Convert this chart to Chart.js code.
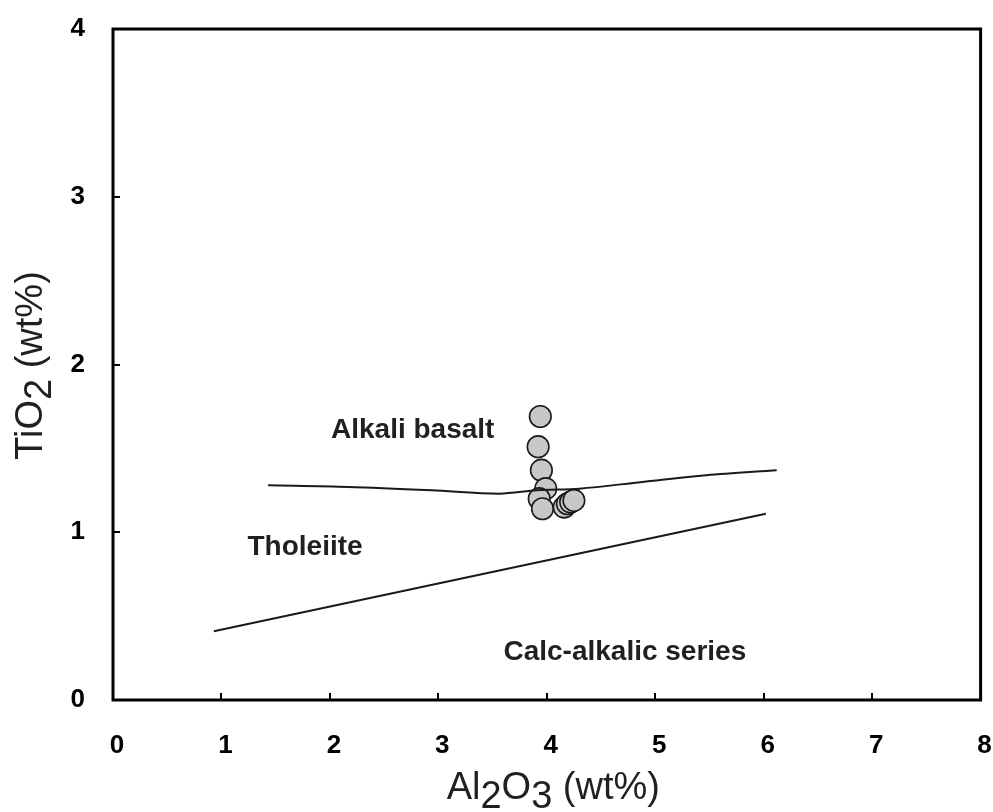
<!DOCTYPE html>
<html>
<head>
<meta charset="utf-8">
<title>TiO2 vs Al2O3</title>
<script src="https://cdn.jsdelivr.net/npm/chart.js@4.4.1/dist/chart.umd.min.js"></script>
<style>
    html, body { margin: 0; padding: 0; background: #fff; }
    #wrap { width: 993px; height: 812px; position: relative; }
</style>
</head>
<body>
<div id="wrap"><canvas id="chart"></canvas></div>
<script>
// Sample analyses (wt%)
const sampleAl2O3 = [3.94, 3.92, 3.95, 3.99, 3.93, 3.96, 4.16, 4.19, 4.22, 4.25];
const sampleTiO2 = [1.69, 1.51, 1.37, 1.26, 1.20, 1.14, 1.15, 1.17, 1.18, 1.19];

// Alkali basalt / tholeiite boundary
const alkaliLineX = [1.43, 2.17, 2.94, 3.56, 3.91, 4.30, 4.88, 5.47, 6.12];
const alkaliLineY = [1.28, 1.27, 1.25, 1.23, 1.25, 1.26, 1.30, 1.34, 1.37];

// Tholeiite / calc-alkalic boundary
const calcLineX = [0.93, 6.02];
const calcLineY = [0.41, 1.11];

// Field names and where they sit (data units, left edge / baseline)
const fieldNames = ['Alkali basalt', 'Tholeiite', 'Calc-alkalic series'];
const fieldX = [2.01, 1.24, 3.60];
const fieldY = [1.56, 0.865, 0.24];

// Axis titles: [text, isSubscript]
const xTitleParts = [['Al', 0], ['2', 1], ['O', 0], ['3', 1], [' (wt%)', 0]];
const yTitleParts = [['TiO', 0], ['2', 1], [' (wt%)', 0]];

const xTickValues = [0, 1, 2, 3, 4, 5, 6, 7, 8];
const yTickValues = [0, 1, 2, 3, 4];

const tickFont = { family: "'Liberation Sans', Arial, sans-serif", size: 26, weight: 'bold' };
const labelFont = "bold 28px 'Liberation Sans', Arial, sans-serif";
const titleFont = "38px 'Liberation Sans', Arial, sans-serif";

const toPoints = (xs, ys) => xs.map((x, i) => ({ x: x, y: ys[i] }));

/**
 * Draw a string made of normal and subscript pieces, centred on x
 */
function drawSubText(ctx, parts, x, y, drop) {
    const widths = parts.map(([t]) => ctx.measureText(t).width);
    let cx = x - widths.reduce((a, b) => a + b, 0) / 2;
    parts.forEach(([t, sub], i) => {
        ctx.fillText(t, cx, sub ? y + drop : y);
        cx += widths[i];
    });
}

// Keep the plot frame exactly where the reference has it
function noScalePadding(scale) {
    scale.paddingLeft = 0;
    scale.paddingRight = 0;
    scale.paddingTop = 0;
    scale.paddingBottom = 0;
}

// Frame, inward ticks, field names and axis titles
const decorations = {
    id: 'decorations',
    afterDatasetsDraw(chart) {
        const ctx = chart.ctx;
        const area = chart.chartArea;
        const xs = chart.scales.x;
        const ys = chart.scales.y;
        ctx.save();

        // inner tick marks
        ctx.strokeStyle = '#000';
        ctx.lineWidth = 2;
        ctx.beginPath();
        xTickValues.slice(1, -1).forEach(v => {
            const px = Math.round(xs.getPixelForValue(v));
            ctx.moveTo(px, area.bottom);
            ctx.lineTo(px, area.bottom - 7);
        });
        yTickValues.slice(1, -1).forEach(v => {
            const py = Math.round(ys.getPixelForValue(v));
            ctx.moveTo(area.left, py);
            ctx.lineTo(area.left + 7, py);
        });
        ctx.stroke();

        // frame
        ctx.lineWidth = 3;
        ctx.strokeRect(area.left, area.top, area.right - area.left, area.bottom - area.top);

        // field names
        ctx.fillStyle = '#231f20';
        ctx.font = labelFont;
        ctx.textAlign = 'left';
        ctx.textBaseline = 'alphabetic';
        fieldNames.forEach((name, i) => {
            ctx.fillText(name, xs.getPixelForValue(fieldX[i]), ys.getPixelForValue(fieldY[i]));
        });

        // axis titles
        ctx.fillStyle = '#231f20';
        ctx.font = titleFont;
        drawSubText(ctx, xTitleParts, (area.left + area.right) / 2 + 6.5, 799, 9);

        ctx.translate(42, (area.top + area.bottom) / 2 + 1);
        ctx.rotate(-Math.PI / 2);
        drawSubText(ctx, yTitleParts, 0, 0, 9);

        ctx.restore();
    }
};

const chart = new Chart(document.getElementById('chart'), {
    type: 'scatter',
    data: {
        datasets: [
            {
                label: 'Alkali basalt boundary',
                type: 'line',
                data: toPoints(alkaliLineX, alkaliLineY),
                borderColor: '#1a1a1a',
                borderWidth: 2,
                pointRadius: 0,
                tension: 0.4,
                cubicInterpolationMode: 'monotone',
                fill: false,
                order: 0
            },
            {
                label: 'Calc-alkalic boundary',
                type: 'line',
                data: toPoints(calcLineX, calcLineY),
                borderColor: '#1a1a1a',
                borderWidth: 2,
                pointRadius: 0,
                fill: false,
                order: 0
            },
            {
                label: 'Samples',
                data: toPoints(sampleAl2O3, sampleTiO2),
                pointRadius: 10.8,
                pointBackgroundColor: '#c8c8c8',
                pointBorderColor: '#1a1a1a',
                pointBorderWidth: 1.6,
                order: 1
            }
        ]
    },
    options: {
        responsive: true,
        maintainAspectRatio: false,
        animation: false,
        devicePixelRatio: 1,
        layout: {
            padding: { top: 29, right: 11, bottom: 0, left: 0 }
        },
        plugins: {
            legend: { display: false },
            tooltip: { enabled: false }
        },
        scales: {
            x: {
                type: 'linear',
                min: 0,
                max: 8,
                afterBuildTicks: scale => {
                    scale.ticks = xTickValues.map(v => ({ value: v }));
                },
                afterFit: scale => {
                    scale.height = 112;
                    noScalePadding(scale);
                },
                ticks: {
                    color: '#000',
                    font: tickFont,
                    padding: 30,
                    labelOffset: 4,
                    maxRotation: 0
                },
                grid: { display: false, drawTicks: false },
                border: { display: false }
            },
            y: {
                type: 'linear',
                min: 0,
                max: 4,
                afterBuildTicks: scale => {
                    scale.ticks = yTickValues.map(v => ({ value: v }));
                },
                afterFit: scale => {
                    scale.width = 113;
                    noScalePadding(scale);
                },
                ticks: {
                    color: '#000',
                    font: tickFont,
                    padding: 28
                },
                grid: { display: false, drawTicks: false },
                border: { display: false }
            }
        }
    },
    plugins: [decorations]
});
</script>
</body>
</html>
